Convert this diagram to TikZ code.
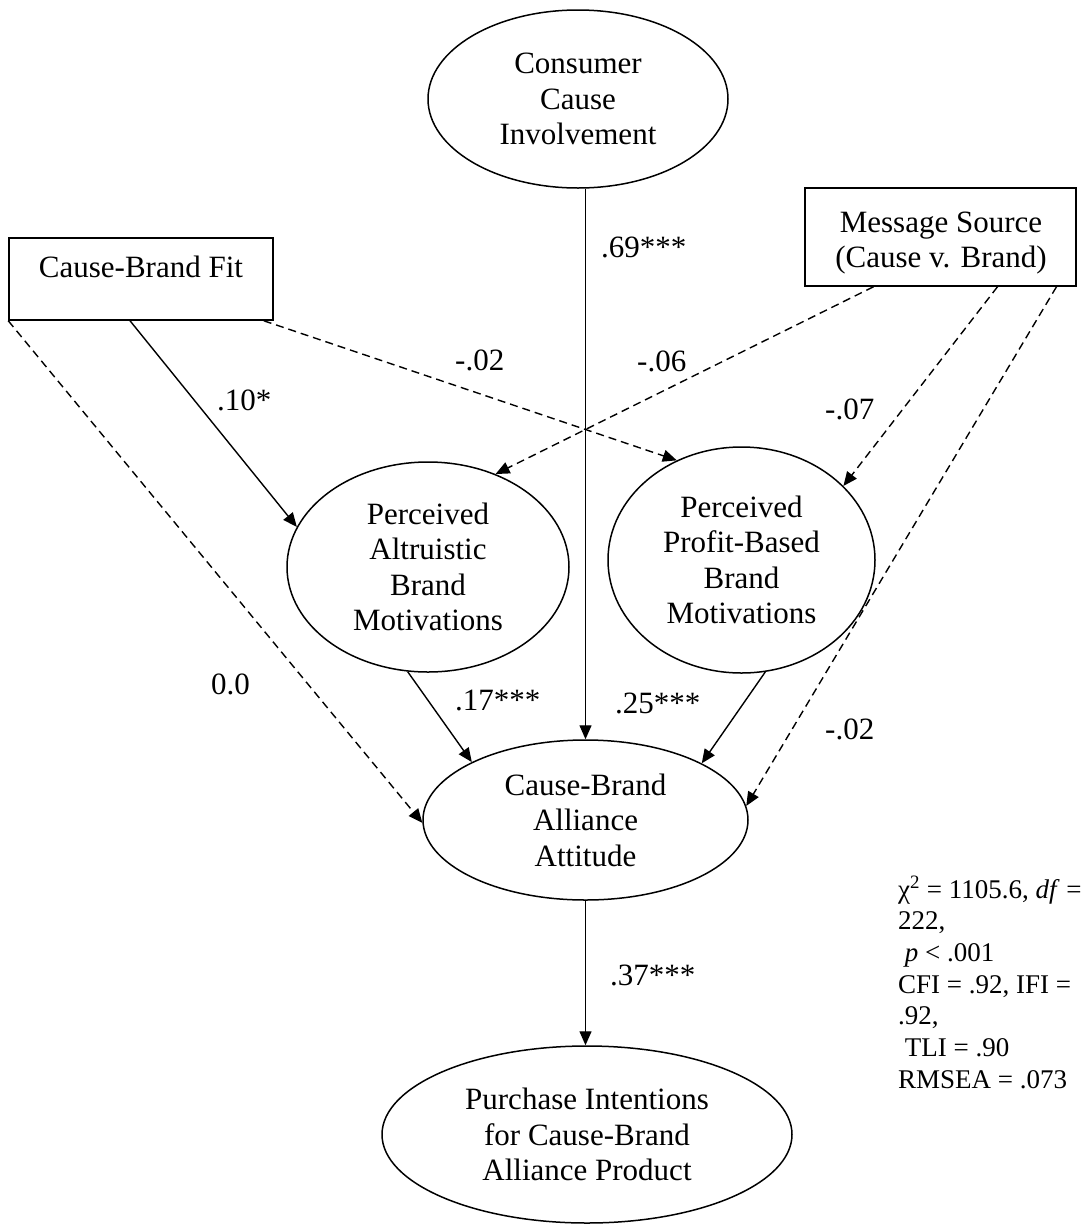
\documentclass[tikz,border=0pt]{standalone}
\usepackage{fontspec}
\setmainfont{Liberation Serif}
\usetikzlibrary{shapes.geometric,arrows.meta}

\begin{document}
\begin{tikzpicture}[x=1pt,y=-1pt,
  every node/.style={font=\fontsize{31}{35.5}\selectfont},
  latent/.style={draw,ellipse,line width=1.5pt,inner sep=0pt,align=center},
  observed/.style={draw,rectangle,line width=1.5pt,inner sep=0pt},
  sigpath/.style={line width=1.4pt,-{Triangle[length=14pt,width=12pt]}},
  nspath/.style={sigpath,dash pattern=on 8pt off 5pt},
  coef/.style={anchor=base west,inner sep=0pt},
  fitline/.style={anchor=base west,inner sep=0pt,font=\fontsize{27}{31.7}\selectfont},
]
\useasboundingbox (0,0) rectangle (1086,1224);

% latent constructs
\node[latent,minimum width=300pt,minimum height=178pt] (cci) at (578,99)
  {Consumer\\Cause\\Involvement};
\node[latent,minimum width=282pt,minimum height=210pt] (alt) at (428,567)
  {Perceived\\Altruistic\\Brand\\Motivations};
\node[latent,minimum width=267pt,minimum height=226pt] (prof) at (741.5,560)
  {Perceived\\Profit-Based\\Brand\\Motivations};
\node[latent,minimum width=325pt,minimum height=160pt] (att) at (585.5,820)
  {Cause-Brand\\Alliance\\Attitude};
\node[latent,minimum width=410pt,minimum height=177pt] (pi) at (587,1134.5)
  {Purchase Intentions\\for Cause-Brand\\Alliance Product};

% observed variables
\node[observed,minimum width=264pt,minimum height=82pt] (fit) at (141,279) {};
\node[anchor=base,inner sep=0pt] (fitlabel) at (141,277) {Cause-Brand Fit};
\node[observed,minimum width=271pt,minimum height=98pt] (msg) at (940.5,237) {};
\node[align=center,inner sep=0pt] (msglabel) at (941,243) {Message Source\\(Cause v. Brand)};

% structural paths
\draw[sigpath] (cci.south -| att.north) -- (att.north);
\draw[sigpath] (att.south) -- (att.south |- pi.north);
\draw[sigpath] ([xshift=-11pt]fit.south) -- (alt.163);
\draw[nspath] ([xshift=-10pt]fit.south east) -- (prof.123);
\draw[nspath] (fit.south west) -- (att.181);
\draw[nspath] ([xshift=-67pt]msg.south) -- (alt.54);
\draw[nspath] ([xshift=57pt]msg.south) -- (prof.36);
\draw[nspath] ([xshift=116pt]msg.south) -- (att.5);
\draw[sigpath] (alt.259) -- (att.153);
\draw[sigpath] (prof.282) -- (att.26);

% path coefficients
\node[coef] (c69) at (601,257) {.69***};
\node[coef] (c10) at (217,410) {.10*};
\node[coef] (c02a) at (455,370) {-.02};
\node[coef] (c06) at (637,371) {-.06};
\node[coef] (c07) at (825,419) {-.07};
\node[coef] (c00) at (211,694) {0.0};
\node[coef] (c17) at (455,710) {.17***};
\node[coef] (c25) at (615,713) {.25***};
\node[coef] (c02b) at (825,739) {-.02};
\node[coef] (c37) at (610,985) {.37***};

% model fit
\node[fitline] (st1) at (898,898) {χ\textsuperscript{2} = 1105.6, \textit{df} =};
\node[fitline] (st2) at (898,929.7) {222,};
\node[fitline] (st3) at (898,961.4) {\hspace*{6.75pt}\textit{p} < .001};
\node[fitline] (st4) at (898,993.1) {CFI = .92, IFI =};
\node[fitline] (st5) at (898,1024.8) {.92,};
\node[fitline] (st6) at (898,1056.5) {\hspace*{6.75pt}TLI = .90};
\node[fitline] (st7) at (898,1088.2) {RMSEA = .073};
\end{tikzpicture}
\end{document}
